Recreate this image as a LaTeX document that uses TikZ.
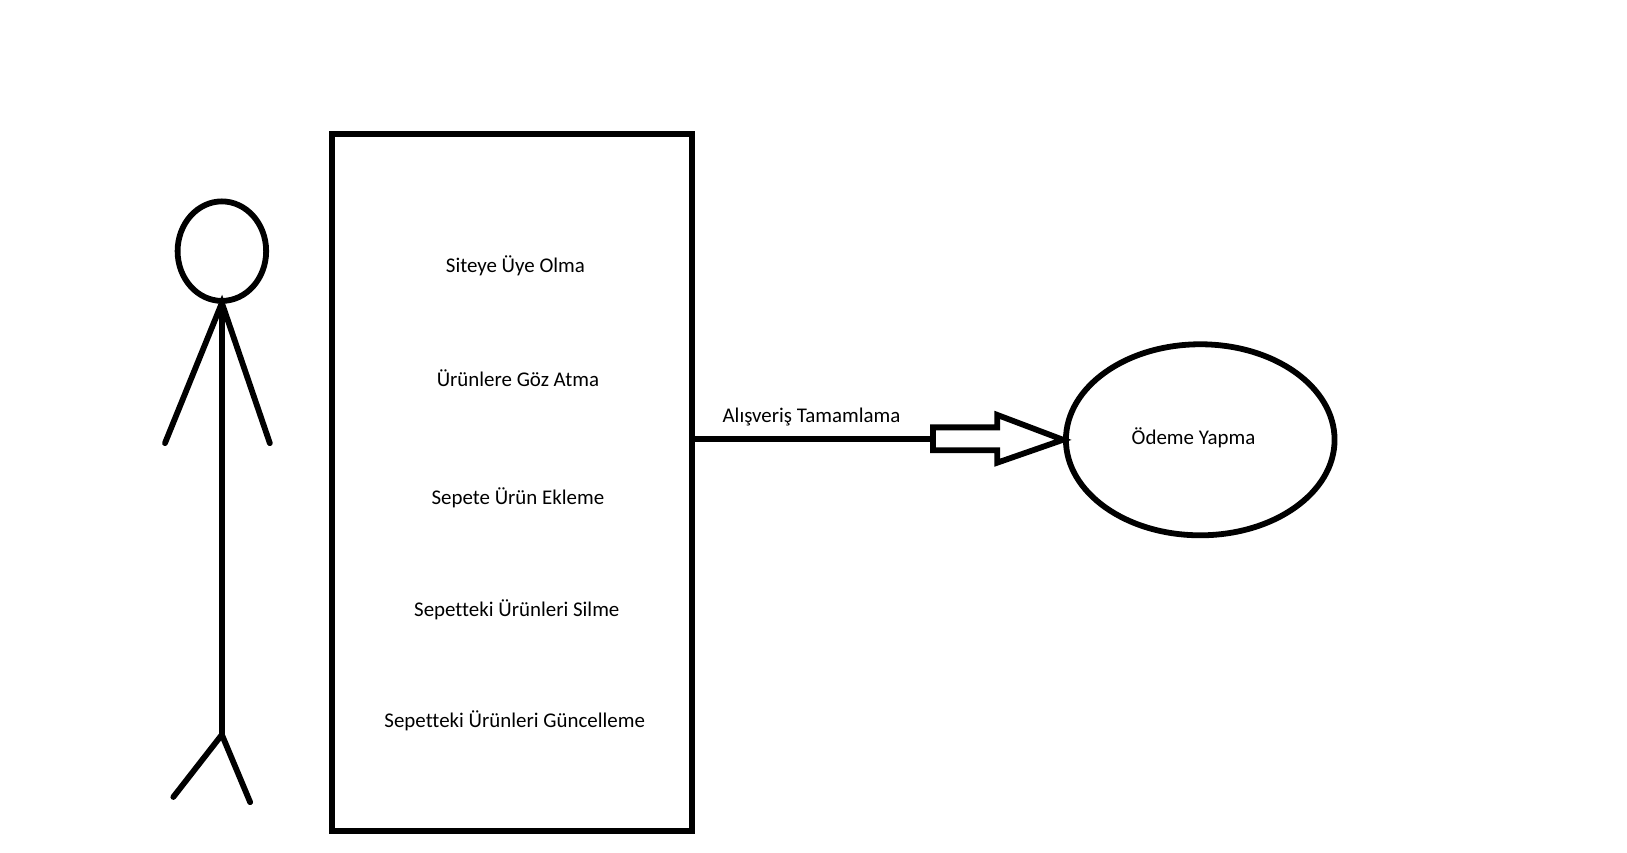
\documentclass[tikz,border=0pt]{standalone}
\usepackage{fontspec}
\usepackage{tikz}
\usetikzlibrary{shapes.geometric}
\setmainfont[Ligatures=NoCommon]{Carlito}

\tikzset{
    thickline/.style={line width=3.3pt, line cap=round, line join=miter},
    usecase/.style={inner sep=0pt, font=\fontsize{11.9}{14}\selectfont}
}

\begin{document}
\begin{tikzpicture}[x=0.0199cm, y=-0.0199cm]
    \useasboundingbox (0,0) rectangle (1635.2,856.3);

    % Draw the stick figure
    \node[draw, thickline, ellipse, minimum width=89*0.0199cm, minimum height=100*0.0199cm, inner sep=0pt] (head) at (223,252.4) {};
    \coordinate (neck) at (223,304.5);
    \coordinate (handl) at (165.8,445.4);
    \coordinate (handr) at (271.2,445.4);
    \coordinate (hip) at (223,738.4);
    \coordinate (footl) at (174.2,801);
    \coordinate (footr) at (251.4,806.2);
    \draw[thickline] (head.south) -- (hip);
    \draw[thickline] (handl) -- (neck) -- (handr);
    \draw[thickline] (footl) -- (hip) -- (footr);

    % Draw the box with its list
    \node[draw, thickline, rectangle, minimum width=362*0.0199cm, minimum height=701*0.0199cm] (box) at (514.7,485) {};
    \node[usecase] (uye) at (518,267) {Siteye Üye Olma};
    \node[usecase] (goz) at (520.5,380.5) {Ürünlere Göz Atma};
    \node[usecase] (ekle) at (520.5,500.6) {Sepete Ürün Ekleme};
    \node[usecase] (sil) at (519.4,613) {Sepetteki Ürünleri Silme};
    \node[usecase] (guncel) at (517.3,724) {Sepetteki Ürünleri Güncelleme};

    % Draw the payment ellipse
    \node[draw, thickline, ellipse, minimum width=270*0.0199cm, minimum height=192*0.0199cm, inner sep=0pt] (odeme) at (1206.3,442) {};
    \node[usecase] (odemetext) at (1199.5,440) {Ödeme Yapma};

    % Draw the connector and the hollow arrow
    \coordinate (tail) at (937.6,441);
    \draw[thickline] (box.east |- tail) -- (tail);
    \draw[thickline, line cap=butt] (tail) -- ++(0,-11.5) -- ++(64.7,0) -- ++(0,-12.5) -- (odeme.west) -- (1002.3,465) -- ++(0,-12.5) -- ++(-64.7,0) -- cycle;
    \node[usecase] (tamam) at (815.6,419) {Alışveriş Tamamlama};
\end{tikzpicture}
\end{document}
